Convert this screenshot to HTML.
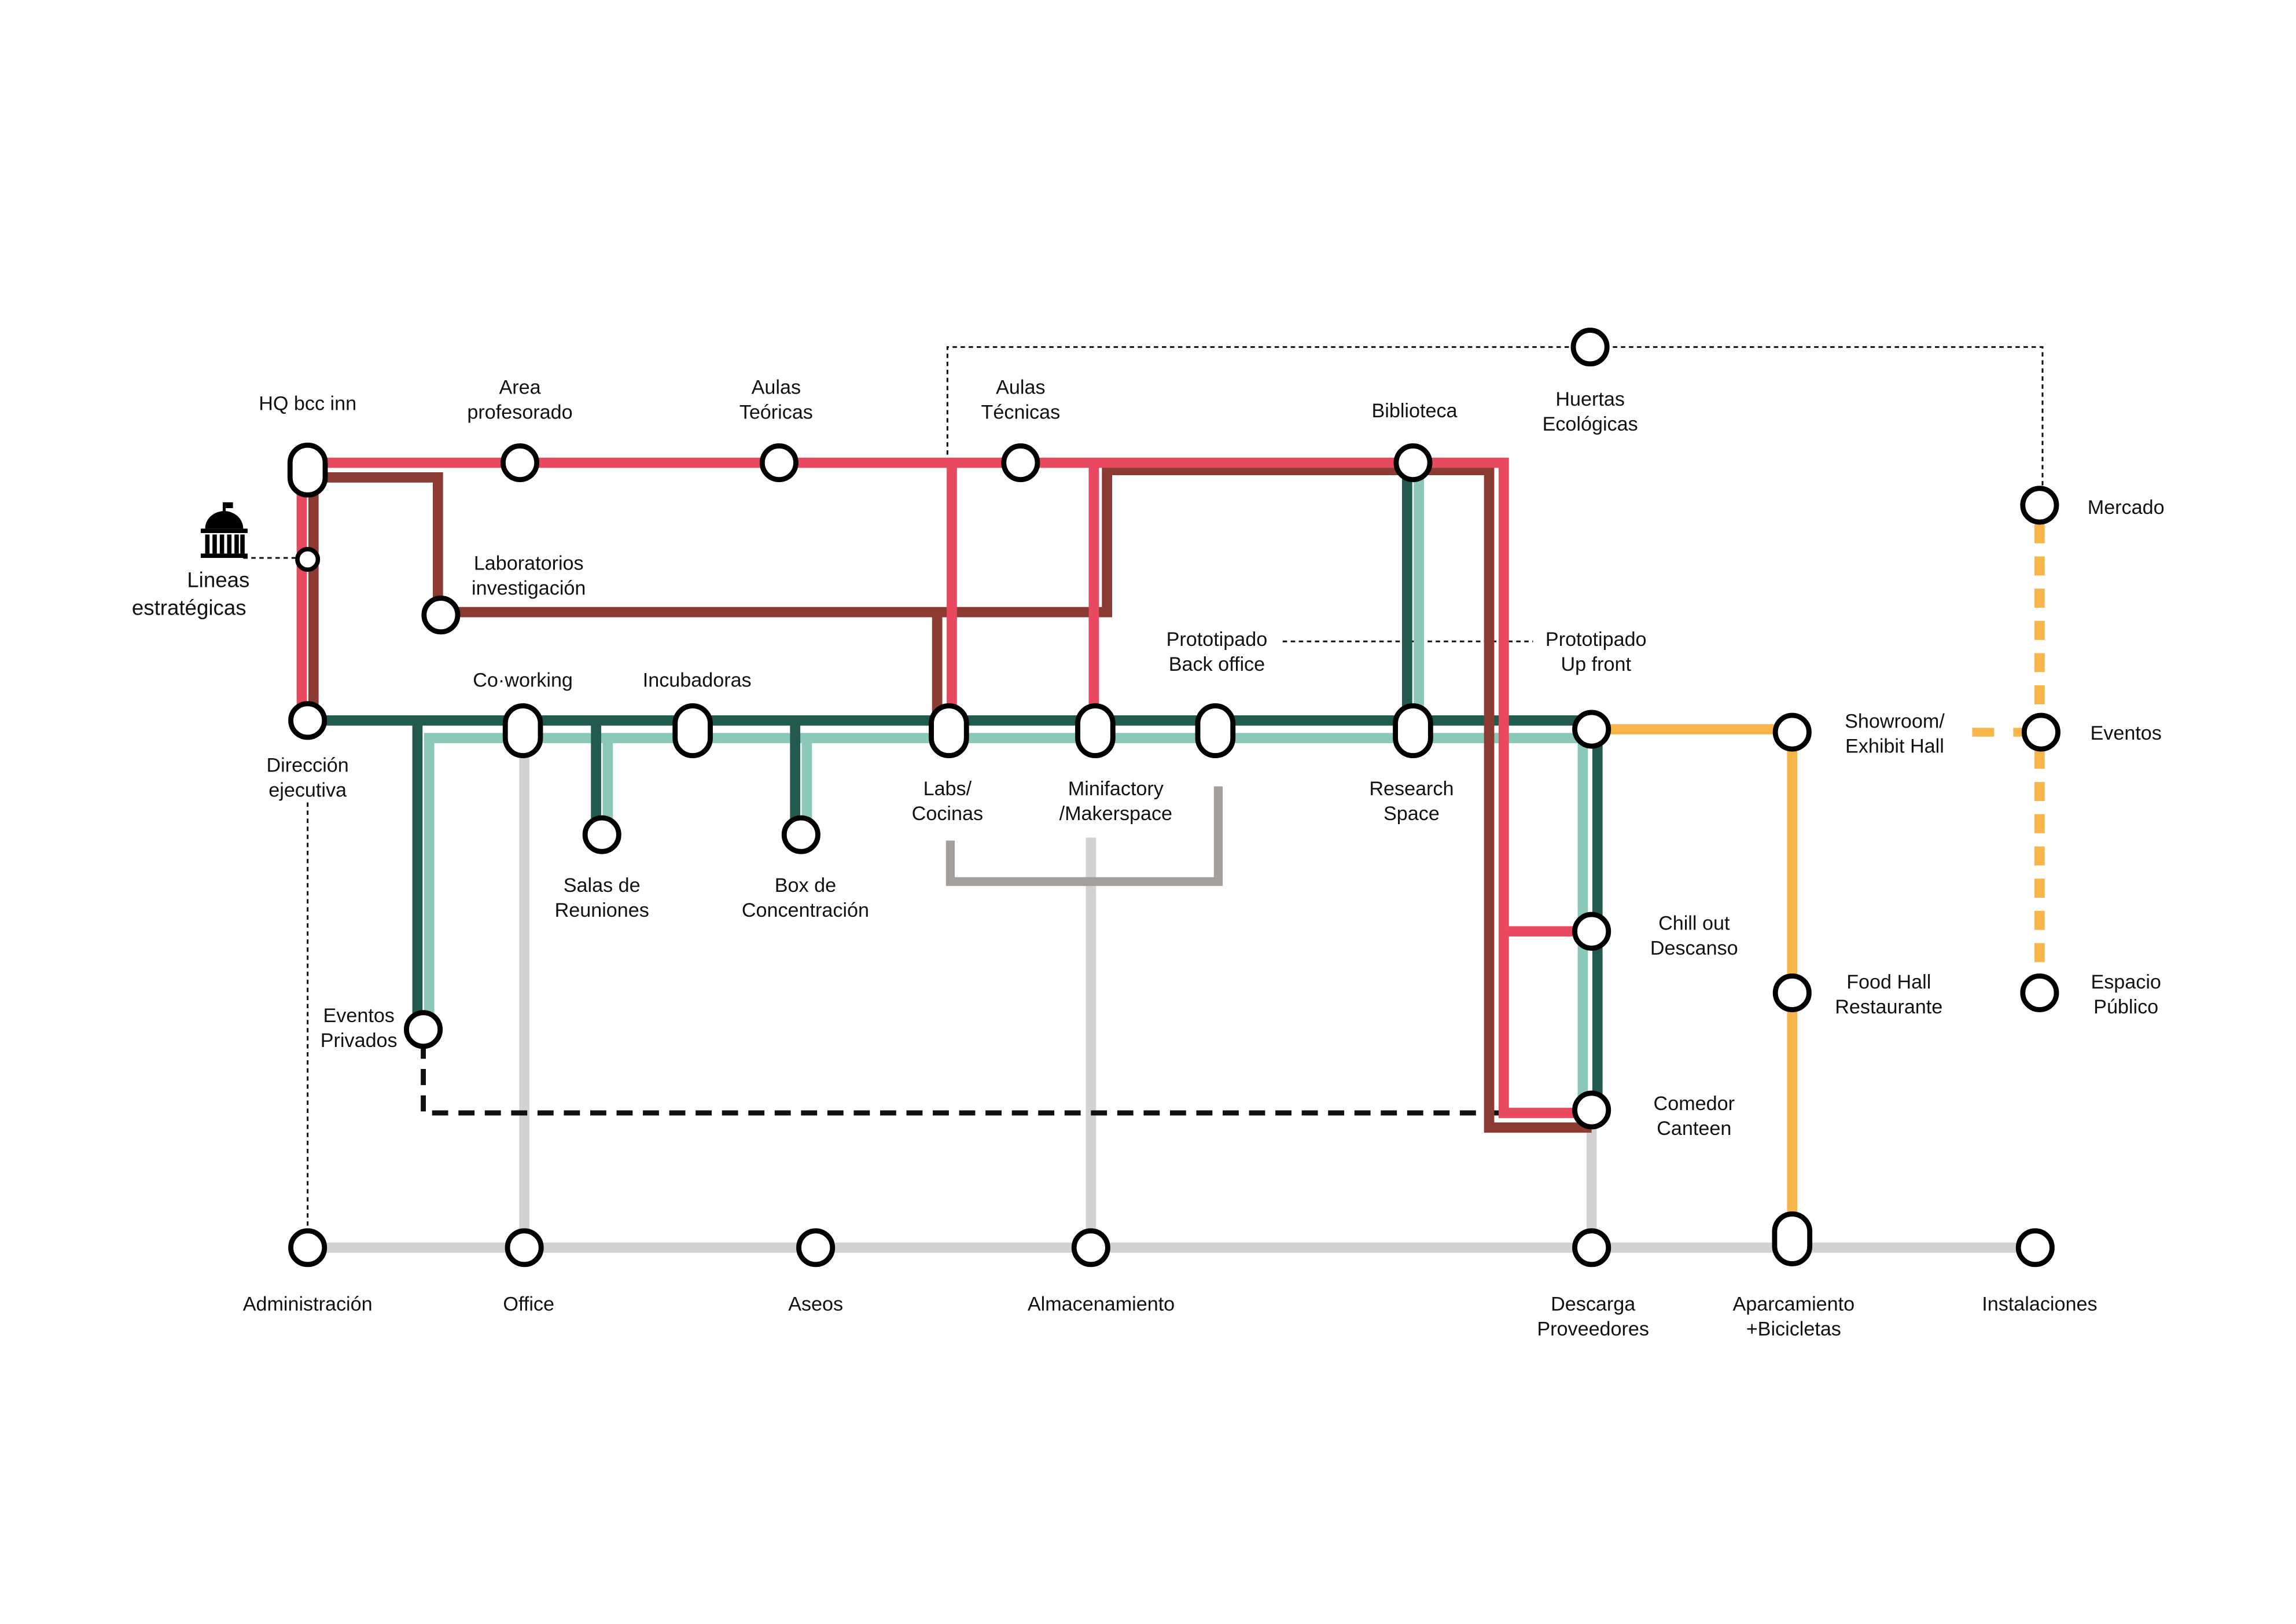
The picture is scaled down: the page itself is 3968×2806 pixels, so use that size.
<!DOCTYPE html>
<html><head><meta charset="utf-8"><style>
html,body{margin:0;padding:0;background:#fff}
svg{display:block}
text{font-family:"Liberation Sans",sans-serif;font-size:13.5px;fill:#111;text-anchor:middle}
</style></head><body>
<svg width="3968" height="2806" viewBox="0 0 1568 1109" xmlns="http://www.w3.org/2000/svg">
<rect width="1568" height="1109" fill="#fff"/>
<g fill="none" stroke-linejoin="miter" stroke-linecap="butt">
<!-- thin dotted -->
<g stroke="#111" stroke-width="1.2" stroke-dasharray="3,2.5">
<path d="M647,316 V237 H1395 V345"/>
<path d="M876,438 H1047"/>
<path d="M166,381 H210"/>
<path d="M210,548 V840"/>
</g>
<!-- light gray -->
<g stroke="#d2d2d2" stroke-width="7">
<path d="M210,852 H1390"/>
<path d="M358,500 V852"/>
<path d="M745,572 V852"/>
<path d="M1087,758 V852"/>
</g>
<!-- gray bracket -->
<path d="M649,574 V602 H832 V537" stroke="#a29e9b" stroke-width="6"/>
<!-- orange -->
<path d="M1087,498 H1224 V846" stroke="#f8b54a" stroke-width="7"/>
<g stroke="#f8b54a" stroke-width="7" stroke-dasharray="13,9">
<path d="M1393,358 V668"/>
</g>
<path d="M1347,500 H1362 M1375,500 H1390" stroke="#f8b54a" stroke-width="6"/>
<!-- black dashed -->
<path d="M289,712 V760 H1087" stroke="#111" stroke-width="3.5" stroke-dasharray="11,7"/>
<!-- light teal -->
<g stroke="#8bc8ba" stroke-width="7">
<path d="M293,703 V504 H1081 V758"/>
<path d="M415,504 V570"/>
<path d="M551,504 V570"/>
<path d="M969,316 V492"/>
</g>
<!-- dark green -->
<g stroke="#225a50" stroke-width="7">
<path d="M210,492 H1087"/>
<path d="M1091,498 V758"/>
<path d="M285,492 V703"/>
<path d="M407,492 V570"/>
<path d="M543,492 V570"/>
<path d="M961,316 V492"/>
</g>
<!-- brown -->
<g stroke="#8b3b32" stroke-width="7">
<path d="M214,326 V492"/>
<path d="M210,326 H299 V420"/>
<path d="M301,418 H756 V321 H1017 V770 H1087"/>
<path d="M640,418 V492"/>
</g>
<!-- red -->
<g stroke="#e8495e" stroke-width="7">
<path d="M206,316 V492"/>
<path d="M210,316 H1027 V760 H1087"/>
<path d="M1027,636 H1087"/>
<path d="M650,316 V492"/>
<path d="M747,316 V492"/>
</g>
</g>
<!-- nodes -->
<g fill="#fff" stroke="#000" stroke-width="3.5">
<rect x="198" y="304" width="24" height="34" rx="12"/>
<circle cx="355" cy="316" r="11.5"/>
<circle cx="532" cy="316" r="11.5"/>
<circle cx="697" cy="316" r="11.5"/>
<circle cx="965" cy="316" r="11.5"/>
<circle cx="1086" cy="237" r="11.5"/>
<circle cx="1393" cy="345" r="11.5"/>
<circle cx="301" cy="420" r="11.5"/>
<circle cx="210" cy="382" r="7" stroke-width="3"/>
<circle cx="210" cy="492" r="11.5"/>
<rect x="345" y="482" width="24" height="34" rx="12"/>
<rect x="461" y="482" width="24" height="34" rx="12"/>
<rect x="636" y="482" width="24" height="34" rx="12"/>
<rect x="736" y="482" width="24" height="34" rx="12"/>
<rect x="818" y="482" width="24" height="34" rx="12"/>
<rect x="953" y="482" width="24" height="34" rx="12"/>
<circle cx="1087" cy="498" r="11.5"/>
<circle cx="1224" cy="500" r="11.5"/>
<circle cx="1394" cy="500" r="11.5"/>
<circle cx="411" cy="570" r="11.5"/>
<circle cx="547" cy="570" r="11.5"/>
<circle cx="1087" cy="636" r="11.5"/>
<circle cx="1224" cy="678" r="11.5"/>
<circle cx="1393" cy="678" r="11.5"/>
<circle cx="289" cy="703" r="11.5"/>
<circle cx="1087" cy="758" r="11.5"/>
<circle cx="210" cy="852" r="11.5"/>
<circle cx="358" cy="852" r="11.5"/>
<circle cx="557" cy="852" r="11.5"/>
<circle cx="745" cy="852" r="11.5"/>
<circle cx="1087" cy="852" r="11.5"/>
<rect x="1212" y="829" width="24" height="34" rx="12"/>
<circle cx="1390" cy="852" r="11.5"/>
</g>
<!-- building icon -->
<g fill="#000">
<rect x="152" y="343" width="2" height="10"/>
<rect x="154" y="343" width="5" height="4"/>
<path d="M140,361 A13,12 0 0 1 166,361 Z"/>
<rect x="137" y="361" width="32" height="3"/>
<rect x="140" y="365" width="3" height="13"/>
<rect x="145" y="365" width="3" height="13"/>
<rect x="150" y="365" width="3" height="13"/>
<rect x="155" y="365" width="3" height="13"/>
<rect x="160" y="365" width="3" height="13"/>
<rect x="164" y="365" width="3" height="13"/>
<rect x="137" y="378" width="32" height="3"/>
</g>
<!-- labels -->
<text x="210" y="280">HQ bcc inn</text>
<text x="355" y="269">Area</text><text x="355" y="286">profesorado</text>
<text x="530" y="269">Aulas</text><text x="530" y="286">Teóricas</text>
<text x="697" y="269">Aulas</text><text x="697" y="286">Técnicas</text>
<text x="966" y="285">Biblioteca</text>
<text x="1086" y="277">Huertas</text><text x="1086" y="294">Ecológicas</text>
<text x="1452" y="351">Mercado</text>
<text x="149" y="401" style="font-size:14.5px">Lineas</text><text x="129" y="420" style="font-size:14.5px">estratégicas</text>
<text x="361" y="389">Laboratorios</text><text x="361" y="406">investigación</text>
<text x="831" y="441">Prototipado</text><text x="831" y="458">Back office</text>
<text x="1090" y="441">Prototipado</text><text x="1090" y="458">Up front</text>
<text x="357" y="469">Co·working</text>
<text x="476" y="469">Incubadoras</text>
<text x="1294" y="497">Showroom/</text><text x="1294" y="514">Exhibit Hall</text>
<text x="1452" y="505">Eventos</text>
<text x="210" y="527">Dirección</text><text x="210" y="544">ejecutiva</text>
<text x="647" y="543">Labs/</text><text x="647" y="560">Cocinas</text>
<text x="762" y="543">Minifactory</text><text x="762" y="560">/Makerspace</text>
<text x="964" y="543">Research</text><text x="964" y="560">Space</text>
<text x="411" y="609">Salas de</text><text x="411" y="626">Reuniones</text>
<text x="550" y="609">Box de</text><text x="550" y="626">Concentración</text>
<text x="1157" y="635">Chill out</text><text x="1157" y="652">Descanso</text>
<text x="1290" y="675">Food Hall</text><text x="1290" y="692">Restaurante</text>
<text x="1452" y="675">Espacio</text><text x="1452" y="692">Público</text>
<text x="245" y="698">Eventos</text><text x="245" y="715">Privados</text>
<text x="1157" y="758">Comedor</text><text x="1157" y="775">Canteen</text>
<text x="210" y="895">Administración</text>
<text x="361" y="895">Office</text>
<text x="557" y="895">Aseos</text>
<text x="752" y="895">Almacenamiento</text>
<text x="1088" y="895">Descarga</text><text x="1088" y="912">Proveedores</text>
<text x="1225" y="895">Aparcamiento</text><text x="1225" y="912">+Bicicletas</text>
<text x="1393" y="895">Instalaciones</text>
</svg>
</body></html>
